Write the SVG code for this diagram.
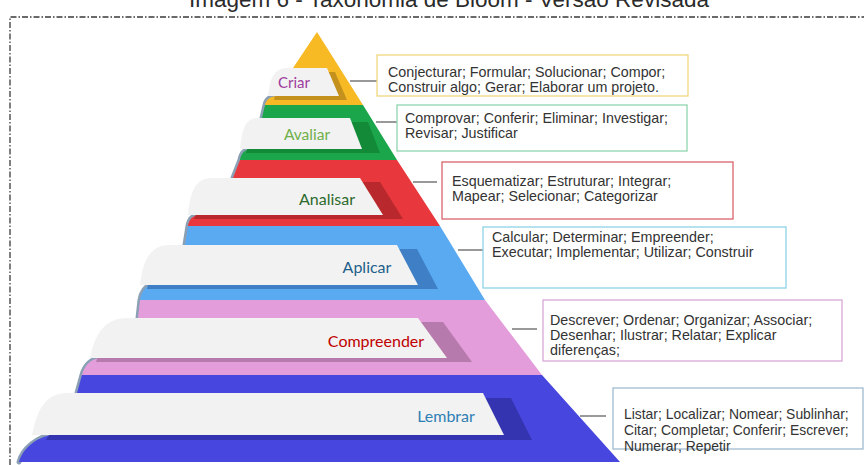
<svg xmlns="http://www.w3.org/2000/svg" width="864" height="465" viewBox="0 0 864 465">
  <style>
    .title { font-family: "Liberation Sans", Arial, sans-serif; font-size: 22.5px; fill: #2b2b2b; }
    .frame { fill: none; stroke: #3a3a3a; stroke-width: 1.3; stroke-dasharray: 6 2 1.5 2; }
    .panel { fill: #f2f2f2; }
    .curl { fill: none; stroke: #8ba0b4; stroke-width: 5; stroke-linecap: round; stroke-linejoin: round; }
    .lbl { font-family: Lato, "Open Sans", sans-serif; font-size: 16px; text-anchor: middle; }
    .box { fill: none; stroke-width: 1.3; }
    .txt { font-family: "Liberation Sans", Arial, sans-serif; font-size: 14.3px; fill: #333333; }
    .txt-s { font-family: "Liberation Sans", Arial, sans-serif; font-size: 13.9px; fill: #333333; }
    .conn line { stroke: #555555; stroke-width: 1.2; }
  </style>

  <!-- heading, clipped by the top edge -->
  <text class="title" x="449" y="7" text-anchor="middle">Imagem 6 - Taxonomia de Bloom - Versão Revisada</text>

  <!-- dash-dot frame -->
  <path class="frame" d="M10,465 L10,17 L864,17"/>

  <!-- curled left edges between levels -->
  <g id="curls">
    <path class="curl" d="M278,96 C270,96 266,100 265,105 L262,118"/>
    <path class="curl" d="M252,149 C244,149 241,154 240,160 L233,178"/>
    <path class="curl" d="M200,215 C192,215 189,220 188,226 L185,245"/>
    <path class="curl" d="M153,285 C145,285 141,293 140,300 L138,318"/>
    <path class="curl" d="M102,358 C90,358 84,367 82,375 L77,393"/>
    <path class="curl" d="M54,435 C36,436 22,450 19,462"/>
  </g>

  <!-- level 1: Criar -->
  <g id="criar">
    <path fill="#f7b924" d="M317,32 L363,105 L265,105 C266,100 270,96 278,96 L293,68 Z"/>
    <path fill="#c4921c" d="M300,72 L335,72 L347,100 L274,100 L276,90 Z"/>
    <path class="panel" d="M268,96 C270,80 273,68 287,68 L327,68 L339,96 Z"/>
    <text class="lbl" x="294" y="88" fill="#9e3c9e" style="font-size:15px">Criar</text>
  </g>

  <!-- level 2: Avaliar -->
  <g id="avaliar">
    <path fill="#1ca64c" d="M265,105 L363,105 L397,160 L240,160 C241,154 244,149 252,149 L262,118 Z"/>
    <path fill="#128a38" d="M300,122 L368,122 L380,153 L246,153 L250,140 Z"/>
    <path class="panel" d="M240,149 C242,130 245,118 258,118 L350,118 L362,149 Z"/>
    <text class="lbl" x="307" y="140" fill="#6fb04a" style="font-size:15.5px">Avaliar</text>
  </g>

  <!-- level 3: Analisar -->
  <g id="analisar">
    <path fill="#e8383d" d="M240,160 L397,160 L440,226 L188,226 C189,220 192,215 200,215 L233,178 Z"/>
    <path fill="#b8282c" d="M330,182 L380,182 L403,219 L194,219 L200,205 Z"/>
    <path class="panel" d="M188,215 C190,192 195,178 212,178 L360,178 L383,215 Z"/>
    <text class="lbl" x="327" y="205" fill="#2d6a2d">Analisar</text>
  </g>

  <!-- level 4: Aplicar -->
  <g id="aplicar">
    <path fill="#5aaaf2" d="M188,226 L440,226 L485,300 L140,300 C141,293 145,285 153,285 L185,245 Z"/>
    <path fill="#3f7fc6" d="M370,249 L417,249 L438,289 L147,289 L150,275 Z"/>
    <path class="panel" d="M140,285 C143,260 150,245 170,245 L397,245 L418,285 Z"/>
    <text class="lbl" x="367" y="273" fill="#1f5f8b">Aplicar</text>
  </g>

  <!-- level 5: Compreender -->
  <g id="compreender">
    <path fill="#e39ddb" d="M140,300 L485,300 L542,375 L82,375 C84,367 90,358 102,358 L138,318 Z"/>
    <path fill="#b77aac" d="M390,322 L443,322 L472,362 L96,362 L100,350 Z"/>
    <path class="panel" d="M90,358 C95,333 105,318 128,318 L418,318 L447,358 Z"/>
    <text class="lbl" x="376" y="347" fill="#c00000">Compreender</text>
  </g>

  <!-- level 6: Lembrar -->
  <g id="lembrar">
    <path fill="#4747e0" d="M82,375 L542,375 L620,462 L19,462 C22,450 36,436 54,435 L77,393 Z"/>
    <path fill="#3434b0" d="M460,398 L511,398 L532,440 L46,440 L52,430 Z"/>
    <path class="panel" d="M32,435 C37,410 45,393 68,393 L483,393 L504,435 Z"/>
    <text class="lbl" x="446" y="422" fill="#2f7fb5">Lembrar</text>
  </g>

  <!-- leader lines from levels to verb lists -->
  <g id="connectors" class="conn">
    <line x1="350" y1="81" x2="377" y2="81"/>
    <line x1="376" y1="122" x2="397" y2="122"/>
    <line x1="413" y1="182" x2="437" y2="182"/>
    <line x1="458" y1="250" x2="483" y2="250"/>
    <line x1="512" y1="329" x2="537" y2="329"/>
    <line x1="580" y1="416" x2="606" y2="416"/>
  </g>

  <!-- verb lists -->
  <g id="list-criar">
    <rect class="box" x="377" y="55" width="311" height="41" stroke="#f0d77f"/>
    <text class="txt" x="388" y="77">Conjecturar; Formular; Solucionar; Compor;</text>
    <text class="txt" x="388" y="92">Construir algo; Gerar; Elaborar um projeto.</text>
  </g>
  <g id="list-avaliar">
    <rect class="box" x="397" y="105" width="290" height="46" stroke="#8fd4b0"/>
    <text class="txt" x="405" y="123">Comprovar; Conferir; Eliminar; Investigar;</text>
    <text class="txt" x="405" y="138">Revisar; Justificar</text>
  </g>
  <g id="list-analisar">
    <rect class="box" x="442" y="162" width="291" height="57" stroke="#d9636a"/>
    <text class="txt" x="452" y="186">Esquematizar; Estruturar; Integrar;</text>
    <text class="txt" x="452" y="201">Mapear; Selecionar; Categorizar</text>
  </g>
  <g id="list-aplicar">
    <rect class="box" x="483" y="227" width="303" height="61" stroke="#8dd3e6"/>
    <text class="txt" x="492" y="242">Calcular; Determinar; Empreender;</text>
    <text class="txt" x="492" y="257">Executar; Implementar; Utilizar; Construir</text>
  </g>
  <g id="list-compreender">
    <rect class="box" x="543" y="300" width="299" height="61" stroke="#d8a8d8"/>
    <text class="txt" x="550" y="325">Descrever; Ordenar; Organizar; Associar;</text>
    <text class="txt" x="550" y="340">Desenhar; Ilustrar; Relatar; Explicar</text>
    <text class="txt" x="550" y="355">diferenças;</text>
  </g>
  <g id="list-lembrar">
    <rect class="box" x="613" y="388" width="250" height="61" stroke="#a0bcd0"/>
    <text class="txt-s" x="624" y="419">Listar; Localizar; Nomear; Sublinhar;</text>
    <text class="txt-s" x="624" y="435">Citar; Completar; Conferir; Escrever;</text>
    <text class="txt-s" x="624" y="451">Numerar; Repetir</text>
  </g>
</svg>
